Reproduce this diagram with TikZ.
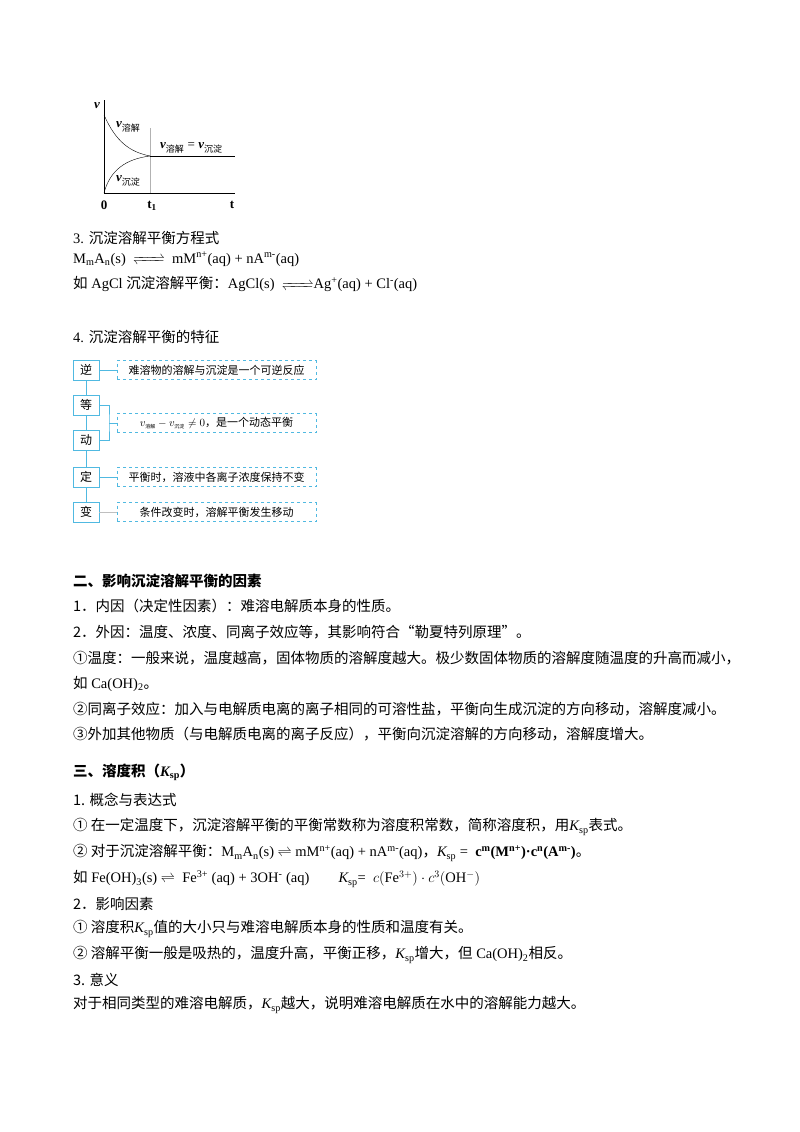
\documentclass[tikz,border=0pt]{standalone}
\usepackage{fontspec}
\usepackage{mathtools}
\setmainfont{Liberation Serif}
\newfontfamily\cjk{Noto Sans CJK SC}
\usetikzlibrary{positioning}
\usetikzlibrary{arrows.meta}
\usetikzlibrary{calc}
\definecolor{flowblue}{RGB}{80,185,225}
\newcommand{\zh}[1]{{\cjk #1}}
\newcommand{\ksp}{{\itshape K}\textsubscript{sp}}
\newcommand{\eqarr}[1]{$\xrightleftharpoons{\hspace{#1}}$}
\begin{document}
\begin{tikzpicture}[x=1pt, y=-1pt,
    line/.style={anchor=west, inner sep=0pt, font=\fontsize{14.5}{16}\selectfont},
    key/.style={draw=flowblue, thick, minimum width=26pt, minimum height=20pt, inner sep=0pt, font=\fontsize{12}{14}\selectfont\cjk},
    note/.style={draw=flowblue, dashed, thick, minimum width=199pt, minimum height=19pt, inner sep=0pt, font=\fontsize{11}{13}\selectfont\cjk},
    lbl/.style={inner sep=0pt, font=\fontsize{13}{15}\selectfont\bfseries}
]
    \useasboundingbox (0,0) rectangle (800,1132);

    % Rate graph
    \coordinate (O) at (104,193);
    \coordinate (Vtop) at (104,100);
    \coordinate (Tend) at (235,193);
    \coordinate (E) at (150,156);
    \draw (Vtop) -- (O) -- (Tend);
    \draw[gray!60] (150,128) -- (150,193);
    \draw (104,115) .. controls (116,142) and (130,152) .. (E);
    \draw (O) .. controls (110,170) and (126,159) .. (E);
    \draw (E) -- (235,156);
    \node[lbl] (vl) at (97,106) {\itshape v};
    \node[lbl] (zero) at (104,205) {0};
    \node[lbl] (t1) at (152,206) {t\textsubscript{1}};
    \node[lbl] (tl) at (232,205) {t};
    \node[lbl, anchor=west] (vd) at (116,127) {\itshape v\textsubscript{\normalfont\cjk\fontsize{9}{10}\selectfont 溶解}};
    \node[lbl, anchor=west] (veq) at (160,148) {\itshape v\textsubscript{\normalfont\cjk\fontsize{9}{10}\selectfont 溶解}\normalfont\ = \bfseries\itshape v\textsubscript{\normalfont\cjk\fontsize{9}{10}\selectfont 沉淀}};
    \node[lbl, anchor=west] (vp) at (116,181) {\itshape v\textsubscript{\normalfont\cjk\fontsize{9}{10}\selectfont 沉淀}};

    % Equation lines
    \node[line] (h3) at (73,238) {3. \zh{沉淀溶解平衡方程式}};
    \node[line] (eq1) at (73,262) {M\textsubscript{m}A\textsubscript{n}(s)\ \ \eqarr{24pt}\ \ mM\textsuperscript{n+}(aq) + nA\textsuperscript{m-}(aq)};
    \node[line] (eq2) at (73,287) {\zh{如} AgCl \zh{沉淀溶解平衡：}AgCl(s)\ \ \eqarr{24pt}Ag\textsuperscript{+}(aq) + Cl\textsuperscript{-}(aq)};
    \node[line] (h4) at (73,337) {4. \zh{沉淀溶解平衡的特征}};

    % Feature chart
    \node[key] (ni) at (86,370) {逆};
    \node[key] (deng) at (86,405) {等};
    \node[key] (dong) at (86,440) {动};
    \node[key] (ding) at (86,477) {定};
    \node[key] (bian) at (86,512) {变};
    \node[note] (n1) at (216.5,370) {难溶物的溶解与沉淀是一个可逆反应};
    \node[note] (n2) at (216.5,423) {$v_{\mbox{\cjk\tiny 溶解}}-v_{\mbox{\cjk\tiny 沉淀}}\neq 0$，是一个动态平衡};
    \node[note] (n3) at (216.5,477) {平衡时，溶液中各离子浓度保持不变};
    \node[note] (n4) at (216.5,512) {条件改变时，溶解平衡发生移动};
    \draw[flowblue, thick] (ni) -- (deng) (deng) -- (dong) (dong) -- (ding) (ding) -- (bian);
    \draw[flowblue, thick] (ni) -- (n1);
    \draw[flowblue, thick] (ding) -- (n3);
    \draw[gray!50, thick] (bian) -- (n4);
    \coordinate (br) at (109,423);
    \draw[flowblue, thick] (deng.east) -| (br) |- (dong.east);
    \draw[flowblue, thick] (br) -- (n2);

    % Section two
    \node[line] (s2) at (73,581) {\zh{\bfseries 二、影响沉淀溶解平衡的因素}};
    \node[line] (a1) at (73,606) {\zh{1．内因（决定性因素）：难溶电解质本身的性质。}};
    \node[line] (a2) at (73,632) {\zh{2．外因：温度、浓度、同离子效应等，其影响符合“勒夏特列原理”。}};
    \node[line] (a3) at (73,658) {\zh{①温度：一般来说，温度越高，固体物质的溶解度越大。极少数固体物质的溶解度随温度的升高而减小，}};
    \node[line] (a4) at (73,684) {\zh{如} Ca(OH)\textsubscript{2}\zh{。}};
    \node[line] (a5) at (73,709) {\zh{②同离子效应：加入与电解质电离的离子相同的可溶性盐，平衡向生成沉淀的方向移动，溶解度减小。}};
    \node[line] (a6) at (73,734) {\zh{③外加其他物质（与电解质电离的离子反应），平衡向沉淀溶解的方向移动，溶解度增大。}};

    % Section three
    \node[line] (s3) at (73,772) {\zh{\bfseries 三、溶度积（}\textbf{\ksp}\zh{\bfseries ）}};
    \node[line] (b1) at (73,800) {\zh{1. 概念与表达式}};
    \node[line] (b2) at (73,827) {\zh{① 在一定温度下，沉淀溶解平衡的平衡常数称为溶度积常数，简称溶度积，用}\ksp\zh{表式。}};
    \node[line] (b3) at (73,853) {\zh{② 对于沉淀溶解平衡：}M\textsubscript{m}A\textsubscript{n}(s) $\rightleftharpoons$ mM\textsuperscript{n+}(aq) + nA\textsuperscript{m-}(aq)\zh{，}\ksp\ = \ \textbf{c\textsuperscript{m}(M\textsuperscript{n+})·c\textsuperscript{n}(A\textsuperscript{m-})}\zh{。}};
    \node[line] (b4) at (73,879) {\zh{如} Fe(OH)\textsubscript{3}(s) $\rightleftharpoons$ \ Fe\textsuperscript{3+} (aq) + 3OH\textsuperscript{-} (aq)\qquad\ksp= \ $c(\mathrm{Fe}^{3+})\cdot c^3(\mathrm{OH}^-)$};
    \node[line] (b5) at (73,904) {\zh{2．影响因素}};
    \node[line] (b6) at (73,929) {\zh{① 溶度积}\ksp\zh{值的大小只与难溶电解质本身的性质和温度有关。}};
    \node[line] (b7) at (73,955) {\zh{② 溶解平衡一般是吸热的，温度升高，平衡正移，}\ksp\zh{增大，但} Ca(OH)\textsubscript{2}\zh{相反。}};
    \node[line] (b8) at (73,980) {\zh{3. 意义}};
    \node[line] (b9) at (73,1005) {\zh{对于相同类型的难溶电解质，}\ksp\zh{越大，说明难溶电解质在水中的溶解能力越大。}};
\end{tikzpicture}
\end{document}
